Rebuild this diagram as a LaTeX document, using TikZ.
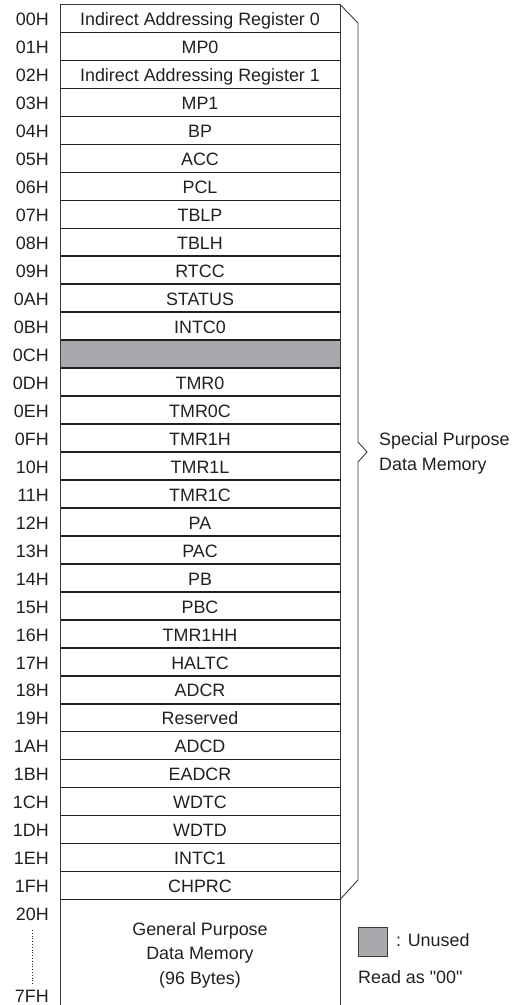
\documentclass[tikz,border=0pt]{standalone}
\usepackage{fontspec}
\setmainfont{Liberation Sans}
\definecolor{txt}{HTML}{231F20}
\definecolor{unused}{HTML}{A7A9AC}
\definecolor{frame}{HTML}{3A3A3A}
\newcommand{\sq}{\XeTeXglyph\XeTeXcharglyph"0022\relax}
\begin{document}
\begin{tikzpicture}[x=1pt,y=-1pt,
  every node/.style={text=txt,font=\fontsize{17.9}{24}\selectfont,inner sep=0pt},
  addr/.style={anchor=base east},
  cell/.style={anchor=base},
  sep/.style={draw=txt,line width=1.5pt},
  outline/.style={draw=frame,line width=0.9pt},
  bracestyle/.style={draw=frame,line width=0.9pt,line join=miter}]
\useasboundingbox (0,0) rectangle (515,1005);
\def\rh{27.97}
\def\top{4.5}
% unused row fill
\fill[unused] (60,{\top+12*\rh}) rectangle (340,{\top+13*\rh});
% rows
\foreach \lab/\txt [count=\i from 0] in {00H/Indirect Addressing Register 0,01H/MP0,02H/Indirect Addressing Register 1,03H/MP1,04H/BP,05H/ACC,06H/PCL,07H/TBLP,08H/TBLH,09H/RTCC,0AH/STATUS,0BH/INTC0,0CH/,0DH/TMR0,0EH/TMR0C,0FH/TMR1H,10H/TMR1L,11H/TMR1C,12H/PA,13H/PAC,14H/PB,15H/PBC,16H/TMR1HH,17H/HALTC,18H/ADCR,19H/Reserved,1AH/ADCD,1BH/EADCR,1CH/WDTC,1DH/WDTD,1EH/INTC1,1FH/CHPRC}{
  \node[addr] (a\i) at (49,{\top+\i*\rh+14+7.2}) {\lab};
  \node[cell] (r\i) at (200,{\top+\i*\rh+14+7.2}) {\txt};
  \coordinate (sl\i) at (60,{\top+(\i+1)*\rh});
  \coordinate (sr\i) at (340,{\top+(\i+1)*\rh});
  \draw[sep] (sl\i) -- (sr\i);
}
\coordinate (tl) at (60,\top);
\coordinate (tr) at (340,\top);
\coordinate (bl) at (60,1005);
\coordinate (br) at (340,1005);
\draw[sep] (60,{\top+12*\rh}) -- (340,{\top+12*\rh});
\draw[outline] (bl) -- (tl) -- (tr) -- (br);
% brace
\coordinate (b1) at (358,23);
\coordinate (b2) at (358,442);
\coordinate (tip) at (367,452);
\coordinate (b3) at (358,462);
\coordinate (b4) at (358,880);
\draw[bracestyle] (tr) -- (b1) -- (b2) -- (tip) -- (b3) -- (b4) -- (sr31);
\node[anchor=base west,align=left] (spdm) at (379,445) {Special Purpose};
\node[anchor=base west] (spdm2) at (379,470) {Data Memory};
% general purpose
\node[addr] (a20) at (49,920) {20H};
\node[addr] (a7f) at (49,1002) {7FH};
\draw[txt,line width=0.8pt,dotted] (32,930) -- (32,985);
\node[cell] (g1) at (200,935) {General Purpose};
\node[cell] (g2) at (200,959.5) {Data Memory};
\node[cell] (g3) at (200,984) {(96 Bytes)};
% legend
\node[draw=frame,line width=0.9pt,fill=unused,minimum width=29pt,minimum height=29pt,anchor=north west] (lg) at (358,927) {};
\node[anchor=base west] (lgt) at (396,946) {: Unused};
\node[anchor=base west] (rd) at (358,983) {Read as \sq 00\sq};
\end{tikzpicture}
\end{document}
